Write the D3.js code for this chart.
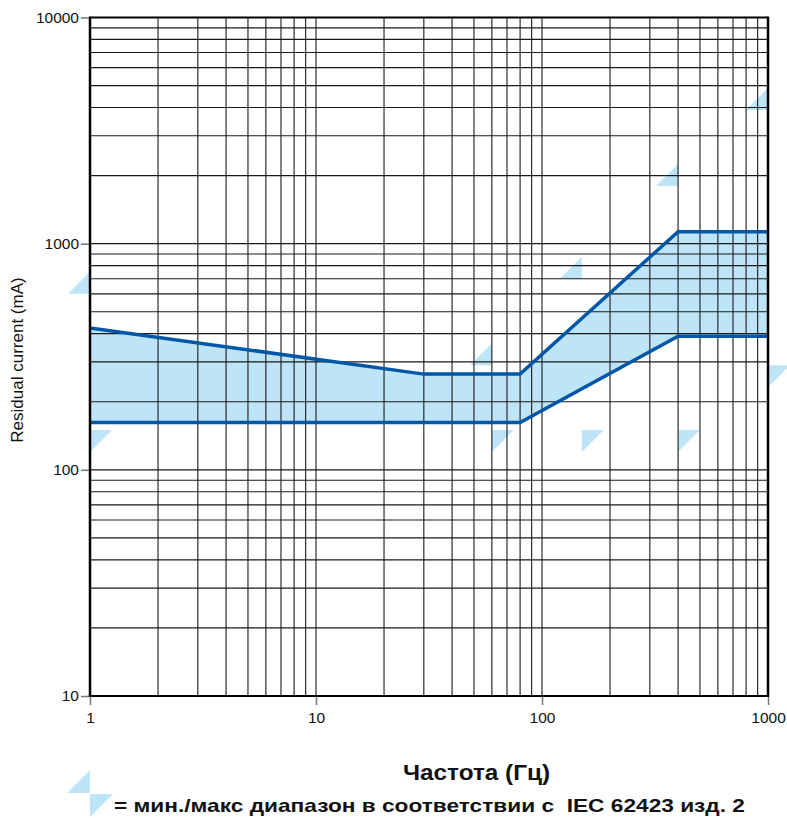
<!DOCTYPE html>
<html><head><meta charset="utf-8">
<script src="https://cdn.jsdelivr.net/npm/d3@7/dist/d3.min.js"></script>
<style>body{margin:0;background:#fff}svg{display:block}</style>
</head><body>
<svg id="chart" width="787" height="818"></svg>
<script>
// ---- data ----
const upperFreqs = [1, 30, 80, 400, 1000];
const upperValues = [424, 265, 265, 1130, 1130];
const lowerFreqs = [1, 80, 400, 1000];
const lowerValues = [162, 162, 390, 390];
const maxMarkFreqs = [1, 60, 150, 400, 1000];
const maxMarkValues = [600, 290, 700, 1800, 3900];
const minMarkFreqs = [1, 60, 150, 400, 1000];
const minMarkValues = [150, 150, 150, 150, 290];
const xTickValues = [1, 10, 100, 1000];
const yTickValues = [10, 100, 1000, 10000];
const xTitle = "Частота (Гц)";
const yTitle = "Residual current (mA)";
const legendText = "= мин./макс диапазон в соответствии с  IEC 62423 изд. 2";

(function () {
// ---- layout ----
const pl = 90, pr = 768, pt = 17.5, pb = 696;
const svg = d3.select("#chart");
const x = d3.scaleLog().domain([1, 1000]).range([pl, pr]);
const y = d3.scaleLog().domain([10, 10000]).range([pb, pt]);
const fillBlue = "#bee4f8", lineBlue = "#0057a6";

// grid values
const minor = [];
for (const base of [1, 10, 100]) for (let m = 1; m <= 9; m++) minor.push(base * m);
minor.push(1000);
const minorY = [];
for (const base of [10, 100, 1000]) for (let m = 1; m <= 9; m++) minorY.push(base * m);
minorY.push(10000);

// band fill
const pts = upperFreqs.map((f, i) => [f, upperValues[i]])
  .concat(lowerFreqs.map((f, i) => [f, lowerValues[i]]).reverse());
const line = d3.line().x(d => x(d[0])).y(d => y(d[1]));
svg.append("path").attr("d", line(pts) + "Z").attr("fill", fillBlue);

// markers
const S = 22;
const mk = svg.append("g").attr("fill", fillBlue);
maxMarkFreqs.forEach((f, i) => {
  const px = x(f), py = y(maxMarkValues[i]);
  mk.append("path").attr("d", `M${px},${py}L${px - S},${py}L${px},${py - S}Z`);
});
minMarkFreqs.forEach((f, i) => {
  const px = x(f), py = y(minMarkValues[i]);
  mk.append("path").attr("d", `M${px},${py}L${px + S},${py}L${px},${py + S}Z`);
});

const grid = svg.append("g").attr("stroke", "#1a1a1a").attr("stroke-width", 1.1);
minor.forEach(v => grid.append("line").attr("x1", x(v)).attr("x2", x(v)).attr("y1", pt).attr("y2", pb));
minorY.forEach(v => grid.append("line").attr("x1", pl).attr("x2", pr).attr("y1", y(v)).attr("y2", y(v)));

// curves
const lineG = svg.append("g").attr("fill", "none").attr("stroke", lineBlue).attr("stroke-width", 3.5);
lineG.append("path").attr("d", line(upperFreqs.map((f, i) => [f, upperValues[i]])));
lineG.append("path").attr("d", line(lowerFreqs.map((f, i) => [f, lowerValues[i]])));

// frame
const fr = svg.append("g").attr("stroke", "#000");
fr.append("line").attr("x1", pl).attr("x2", pl).attr("y1", pt - 1).attr("y2", pb + 1).attr("stroke-width", 2.5);
fr.append("line").attr("x1", pr).attr("x2", pr).attr("y1", pt - 1).attr("y2", pb + 1).attr("stroke-width", 2.5);
fr.append("line").attr("x1", pl).attr("x2", pr).attr("y1", pt).attr("y2", pt).attr("stroke-width", 2);
fr.append("line").attr("x1", pl).attr("x2", pr).attr("y1", pb).attr("y2", pb).attr("stroke-width", 2);

// axes
const font = "'Liberation Sans', Arial, Helvetica, sans-serif";
const yAxis = d3.axisLeft(y).tickValues(yTickValues).tickFormat(d3.format("d")).tickSize(8).tickPadding(2);
const ya = svg.append("g").attr("transform", `translate(${pl - 1},0)`).call(yAxis);
ya.select(".domain").remove();
ya.selectAll(".tick line").attr("stroke", "#777").attr("stroke-width", 1.5);
ya.selectAll(".tick text").attr("font-family", font).attr("font-size", 15.5).attr("fill", "#111");

const xAxis = d3.axisBottom(x).tickValues(xTickValues).tickFormat(d3.format("d")).tickSize(8).tickPadding(7);
const xa = svg.append("g").attr("transform", `translate(0,${pb + 1})`).call(xAxis);
xa.select(".domain").remove();
xa.selectAll(".tick line").attr("stroke", "#777").attr("stroke-width", 1.5);
xa.selectAll(".tick text").attr("font-family", font).attr("font-size", 15.5).attr("fill", "#111");

// titles
svg.append("text").attr("transform", "translate(23,360) rotate(-90)").attr("text-anchor", "middle")
  .attr("font-family", font).attr("font-size", 17).attr("fill", "#111").text(yTitle);
const bold = "'Liberation Sans', Arial, sans-serif";
svg.append("text").attr("x", 403).attr("y", 780)
  .attr("textLength", 147).attr("lengthAdjust", "spacingAndGlyphs")
  .attr("font-family", bold).attr("font-weight", "bold").attr("font-size", 22).attr("fill", "#111").text(xTitle);

// legend
const lg = svg.append("g").attr("fill", fillBlue);
lg.append("path").attr("d", `M90,793L67,793L90,770Z`);
lg.append("path").attr("d", `M90,794L113,794L90,817Z`);
svg.append("text").attr("x", 114).attr("y", 812).style("white-space", "pre")
  .attr("textLength", 631).attr("lengthAdjust", "spacingAndGlyphs")
  .attr("font-family", bold).attr("font-weight", "bold")
  .attr("font-size", 19).attr("fill", "#111").text(legendText);
})();
</script>
</body></html>
